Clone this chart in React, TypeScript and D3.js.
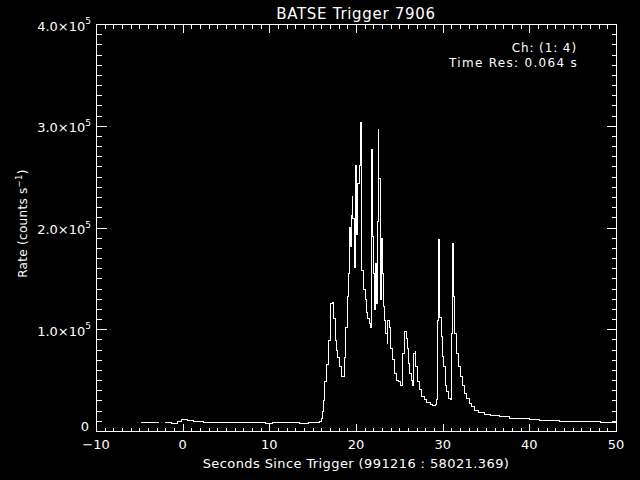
import React from "react";
import * as d3 from "d3";

// Light-curve samples (seconds since trigger, counts/s); null marks a data gap
const times: number[] = [
  -4.8, -2.73, -2.4, -2.04, -1.27, -0.62, -0.11, 0.54, 1.23, 2.38, 4.0, 5.5, 7.0, 8.5, 9.6, 10.4, 12.0, 13.5, 14.5, 15.3, 15.8,
  16.0, 16.15, 16.3, 16.42, 16.6, 16.8, 17.0, 17.1, 17.27, 17.39, 17.58, 17.7, 17.85, 18.08, 18.27, 18.42, 18.62, 18.81,
  19.0, 19.19, 19.3, 19.42, 19.5, 19.58, 19.65, 19.81, 19.92, 20.0, 20.12, 20.23, 20.35, 20.5, 20.58, 20.69, 20.85,
  21.04, 21.19, 21.35, 21.5, 21.65, 21.77, 21.92, 22.04, 22.15, 22.27, 22.38, 22.5, 22.58, 22.65, 22.77, 22.85, 22.96,
  23.08, 23.19, 23.31, 23.46, 23.58, 23.69, 23.85, 24.0, 24.2, 24.42, 24.69, 24.92, 25.15, 25.42, 25.54, 25.65, 25.77,
  25.92, 26.08, 26.23, 26.38, 26.54, 26.65, 26.81, 26.92, 27.08, 27.31, 27.58, 27.85, 28.15, 28.54, 28.85, 29.12, 29.31,
  29.42, 29.54, 29.65, 29.81, 29.96, 30.12, 30.27, 30.46, 30.69, 30.92, 31.04, 31.15, 31.27, 31.42, 31.62, 31.81, 32.04,
  32.27, 32.5, 32.77, 33.08, 33.38, 33.73, 34.12, 34.8, 35.5, 36.6, 37.7, 38.9, 40.0, 41.2, 42.5, 43.5, 45.0, 46.5,
  48.2, 49.3, 50.0,
];
const rates: (number | null)[] = [
  8500, 8500, null, 8300, 7500, 9500, 11500, 10200, 9500, 8500, 8200, 8500, 8000, 8500, 7600, 8500, 8400, 7800, 8300, 8800, 9500,
  12000, 19000, 30000, 48500, 65000, 89000, 111000, 125000, 126000, 111000, 89000, 79000, 72000, 63000, 53500, 54000, 72000, 102000,
  132000, 155000, 200000, 181000, 212000, 230000, 209000, 161000, 261000, 193000, 234000, 243000, 261000, 303000, 286000, 158000, 139000,
  129000, 116000, 111000, 106000, 102000, 277000, 191000, 155000, 119000, 165000, 125000, 206000, 296000, 248000, 180000, 129000, 189000,
  155000, 122000, 109000, 96000, 86000, 109000, 102000, 81000, 70000, 57000, 50000, 48500, 45000, 76000, 94000, 97600, 91000,
  81000, 66500, 57000, 50000, 45000, 76000, 78000, 63000, 48500, 40300, 33700, 30500, 27800, 25600, 24600, 26500, 30500,
  109000, 188000, 112000, 93000, 73000, 63000, 45000, 38600, 32000, 31000, 96000, 184000, 132000, 96000, 76000, 63000, 53400,
  45200, 37000, 32000, 27200, 23900, 19900, 18000, 16500, 15500, 13800, 12600, 11800, 11000, 10600, 10000, 9800, 9300, 9000,
  8800, 8600, 8600,
];

const xMajorTicks = [-10, 0, 10, 20, 30, 40, 50];
const xTickLabels = ["\u221210", "0", "10", "20", "30", "40", "50"];
const yMajorTicks = [0, 100000, 200000, 300000, 400000];
const yTickMantissas = ["0", "1.0", "2.0", "3.0", "4.0"];
const yTickExponent = "5";

const title = "BATSE Trigger 7906";
const xTitle = "Seconds Since Trigger (991216 : 58021.369)";
const chText = "Ch: (1: 4)";
const resText = "Time Res: 0.064 s";

const W = 640;
const H = 480;
const left = 96;
const right = 616;
const top = 24;
const bottom = 431;
const FONT = "'DejaVu Sans', sans-serif";

export default function App() {
  const x = d3.scaleLinear().domain([-10, 50]).range([left, right]);
  const y = d3.scaleLinear().domain([0, 400000]).range([bottom, top]);

  const pts: [number, number | null][] = times.map((t, i) => [t, rates[i]]);
  const line = d3
    .line<[number, number | null]>()
    .defined((d) => d[1] != null)
    .x((d) => x(d[0]))
    .y((d) => y(d[1] as number))
    .curve(d3.curveStepAfter);

  const xMinor = d3.range(-10, 50.001, 1);
  const yMinor = d3.range(0, 400001, 10000);
  const xl = 8, xs = 4, yl = 10, ys = 5;

  const ticks: JSX.Element[] = [];
  xMinor.forEach((t, i) => {
    const major = xMajorTicks.includes(Math.round(t));
    const len = major ? xl : xs;
    const px = Math.round(x(t)) + 0.5;
    ticks.push(<line key={"xb" + i} x1={px} x2={px} y1={bottom + 0.5} y2={bottom + 0.5 - len} />);
    ticks.push(<line key={"xt" + i} x1={px} x2={px} y1={top + 0.5} y2={top + 0.5 + len} />);
  });
  yMinor.forEach((v, i) => {
    const major = yMajorTicks.includes(v);
    const len = major ? yl : ys;
    const py = Math.round(y(v)) + 0.5;
    ticks.push(<line key={"yl" + i} x1={left + 0.5} x2={left + 0.5 + len} y1={py} y2={py} />);
    ticks.push(<line key={"yr" + i} x1={right + 0.5} x2={right + 0.5 - len} y1={py} y2={py} />);
  });

  return (
    <svg
      width={W}
      height={H}
      style={{ position: "fixed", left: 0, top: 0, display: "block" }}
      fontFamily={FONT}
    >
      <rect x={0} y={0} width={W} height={H} fill="#000" />
      <g stroke="#fff" strokeWidth={1} shapeRendering="crispEdges" fill="none">
        <rect x={left + 0.5} y={top + 0.5} width={right - left} height={bottom - top} />
        {ticks}
      </g>
      <path d={line(pts) || ""} fill="none" stroke="#fff" strokeWidth={1} shapeRendering="crispEdges" />
      <g fill="#fff">
        <text x={(left + right) / 2} y={19} fontSize={15} textAnchor="middle" letterSpacing={0.7}>
          {title}
        </text>
        {xMajorTicks.map((t, i) => (
          <text key={"xl" + i} x={x(t)} y={449} fontSize={13} textAnchor="middle">
            {xTickLabels[i]}
          </text>
        ))}
        {yMajorTicks.map((v, i) =>
          v === 0 ? (
            <text key={"ylb" + i} x={89} y={y(v)} fontSize={13} textAnchor="end">
              {yTickMantissas[i]}
            </text>
          ) : (
            <text key={"ylb" + i} x={91} y={y(v) + 6.5} fontSize={13} textAnchor="end">
              {yTickMantissas[i]}×10
              <tspan dy={-6.5} fontSize={9}>
                {yTickExponent}
              </tspan>
            </text>
          )
        )}
        <text x={(left + right) / 2} y={468} fontSize={13} textAnchor="middle" letterSpacing={0.4}>
          {xTitle}
        </text>
        <text transform="translate(27,223.5) rotate(-90)" fontSize={12} textAnchor="middle" letterSpacing={0.3}>
          Rate (counts s
          <tspan dy={-5} fontSize={8.5}>
            −1
          </tspan>
          <tspan dy={5}>)</tspan>
        </text>
        <text x={577} y={52} fontSize={12} textAnchor="end" letterSpacing={0.9}>
          {chText}
        </text>
        <text x={578} y={67} fontSize={12} textAnchor="end" letterSpacing={1.3}>
          {resText}
        </text>
      </g>
    </svg>
  );
}
